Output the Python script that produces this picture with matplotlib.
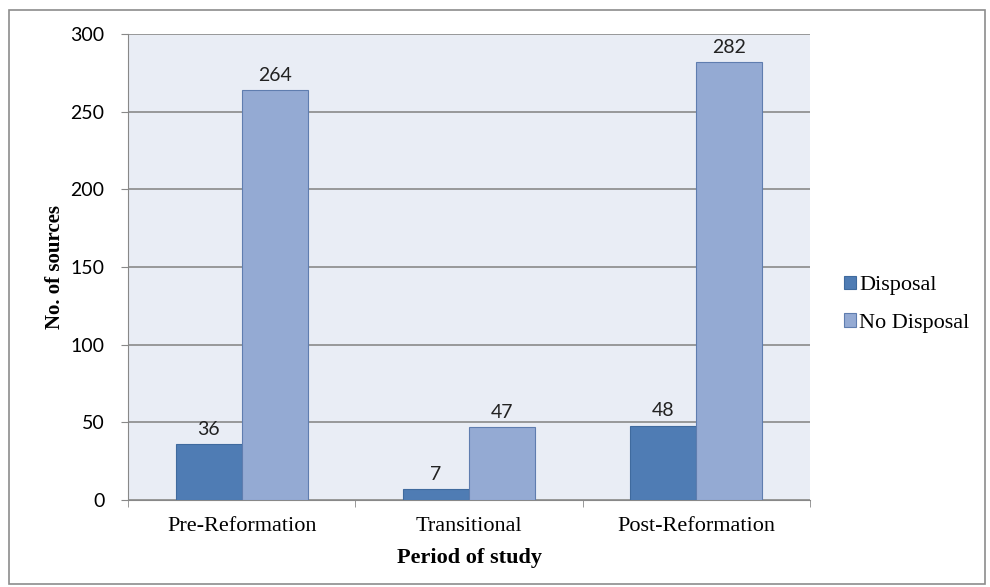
import numpy as np
import matplotlib.pyplot as plt
from matplotlib.patches import Rectangle

plt.rcParams["font.family"] = "Liberation Serif"

# Sources by period of study
periods = ["Pre-Reformation", "Transitional", "Post-Reformation"]
disposal = [36, 7, 48]
no_disposal = [264, 47, 282]

c_disp = "#4F7CB4"
c_nodisp = "#94AAD3"

fig = plt.figure(figsize=(9.9, 5.87), dpi=100)
ax = fig.add_axes([0.1293, 0.148, 0.689, 0.794])
ax.set_facecolor("#E9EDF5")

x = np.arange(len(periods))
w = 0.29
b1 = ax.bar(x - w / 2, disposal, w, color=c_disp, edgecolor="#3F6A9E", linewidth=0.8,
            label="Disposal", zorder=3)
b2 = ax.bar(x + w / 2, no_disposal, w, color=c_nodisp, edgecolor="#5F7DAF", linewidth=0.8,
            label="No Disposal", zorder=3)

for bars, vals in ((b1, disposal), (b2, no_disposal)):
    for r, v in zip(bars, vals):
        ax.text(r.get_x() + r.get_width() / 2, v + 4, str(v), ha="center", va="bottom",
                fontsize=14, family="Lato", color="#222222")

ax.set_xlim(-0.5, 2.5)
ax.set_ylim(0, 300)
ax.set_yticks(range(0, 301, 50))
ax.grid(axis="y", color="#8A8A8A", linewidth=1.2, zorder=1)

ax.set_xticks(x)
ax.set_xticklabels(periods, fontsize=16)
ax.set_xticks([-0.5, 0.5, 1.5, 2.5], minor=True)
ax.tick_params(axis="x", which="major", length=0, pad=12)
ax.tick_params(axis="x", which="minor", length=5, color="#888888")
ax.tick_params(axis="y", length=5, color="#888888", labelsize=14, pad=12)
for t in ax.get_yticklabels():
    t.set_family("Lato")

for s in ("top", "right"):
    ax.spines[s].set_visible(False)
ax.spines["left"].set_color("#888888")
ax.spines["bottom"].set_color("#888888")

ax.set_xlabel("Period of study", fontweight="bold", fontsize=16, labelpad=9)
ax.set_ylabel("No. of sources", fontweight="bold", fontsize=15, labelpad=4)

ax.legend(loc="center left", bbox_to_anchor=(1.02, 0.42), frameon=False,
          fontsize=16, handlelength=0.55, handleheight=0.55,
          handletextpad=0.15, labelspacing=0.8)

# thin border around the whole chart
fig.patches.append(Rectangle((9 / 990, 0.005), 976 / 990, 1 - 10 / 587 - 0.005,
                             transform=fig.transFigure, fill=False,
                             edgecolor="#8C8C8C", linewidth=1.2))

fig.savefig("out.png", dpi=100)
